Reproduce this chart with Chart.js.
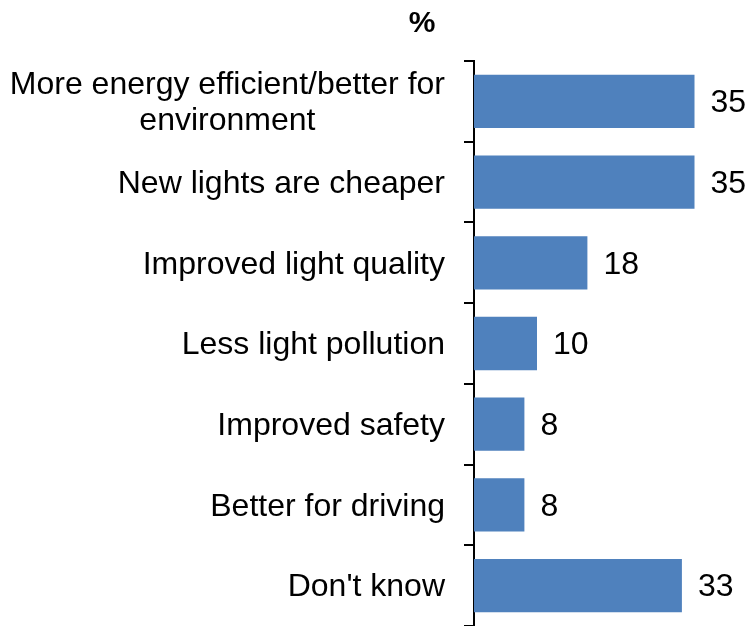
<!DOCTYPE html>
<html lang="en">
<head>
    <meta charset="UTF-8">
    <title>Reasons chart</title>
    <script src="https://cdn.jsdelivr.net/npm/chart.js"></script>
    <style>
        html, body { margin: 0; padding: 0; background: #fff; }
        #wrap { width: 748px; height: 626px; position: relative; }
    </style>
</head>
<body>
    <div id="wrap">
        <canvas id="reasonsChart"></canvas>
    </div>

    <script>
        const categories = [
            ['More energy efficient/better for', 'environment'],
            ['New lights are cheaper'],
            ['Improved light quality'],
            ['Less light pollution'],
            ['Improved safety'],
            ['Better for driving'],
            ["Don't know"]
        ];
        const values = [35, 35, 18, 10, 8, 8, 33];
        const unitLabel = '%';

        const FONT = '"Liberation Sans", Arial, sans-serif';

        // draws category labels (multi-line centred like the original) + value labels + the % heading
        const labelPlugin = {
            id: 'labelPlugin',
            afterDraw(chart) {
                const ctx = chart.ctx;
                const y = chart.scales.y;
                const area = chart.chartArea;
                ctx.save();
                ctx.fillStyle = '#000';
                ctx.font = '32px ' + FONT;
                ctx.textBaseline = 'middle';

                categories.forEach((lines, i) => {
                    const cy = y.getPixelForValue(i) + 2;
                    const right = area.left - 29;
                    const widths = lines.map(l => ctx.measureText(l).width);
                    const maxW = Math.max(...widths);
                    const lh = 36;
                    ctx.textAlign = 'center';
                    lines.forEach((l, j) => {
                        const ly = cy + (j - (lines.length - 1) / 2) * lh;
                        ctx.fillText(l, right - maxW / 2, ly);
                    });
                });

                ctx.textAlign = 'left';
                const meta = chart.getDatasetMeta(0);
                meta.data.forEach((bar, i) => {
                    ctx.fillText(String(values[i]), bar.x + 16, bar.y + 2);
                });

                ctx.font = 'bold 30px ' + FONT;
                ctx.textAlign = 'center';
                ctx.fillText(unitLabel, area.left - 52, 24);
                ctx.restore();
            }
        };

        new Chart(document.getElementById('reasonsChart'), {
            type: 'bar',
            data: {
                labels: categories,
                datasets: [{
                    data: values,
                    backgroundColor: '#4F81BD',
                    borderWidth: 0,
                    barPercentage: 0.66,
                    categoryPercentage: 1
                }]
            },
            options: {
                indexAxis: 'y',
                responsive: true,
                maintainAspectRatio: false,
                animation: false,
                layout: { padding: { top: 61, right: 22, bottom: 0, left: 0 } },
                plugins: {
                    legend: { display: false },
                    tooltip: { enabled: false }
                },
                scales: {
                    x: {
                        display: false,
                        min: 0,
                        max: 40
                    },
                    y: {
                        offset: true,
                        grid: {
                            offset: true,
                            drawOnChartArea: false,
                            drawTicks: true,
                            tickLength: 10,
                            color: '#000',
                            lineWidth: 2
                        },
                        border: { display: true, color: '#000', width: 2 },
                        ticks: { display: false },
                        afterFit: s => { s.width = 474; }
                    }
                }
            },
            plugins: [labelPlugin]
        });
    </script>
</body>
</html>
